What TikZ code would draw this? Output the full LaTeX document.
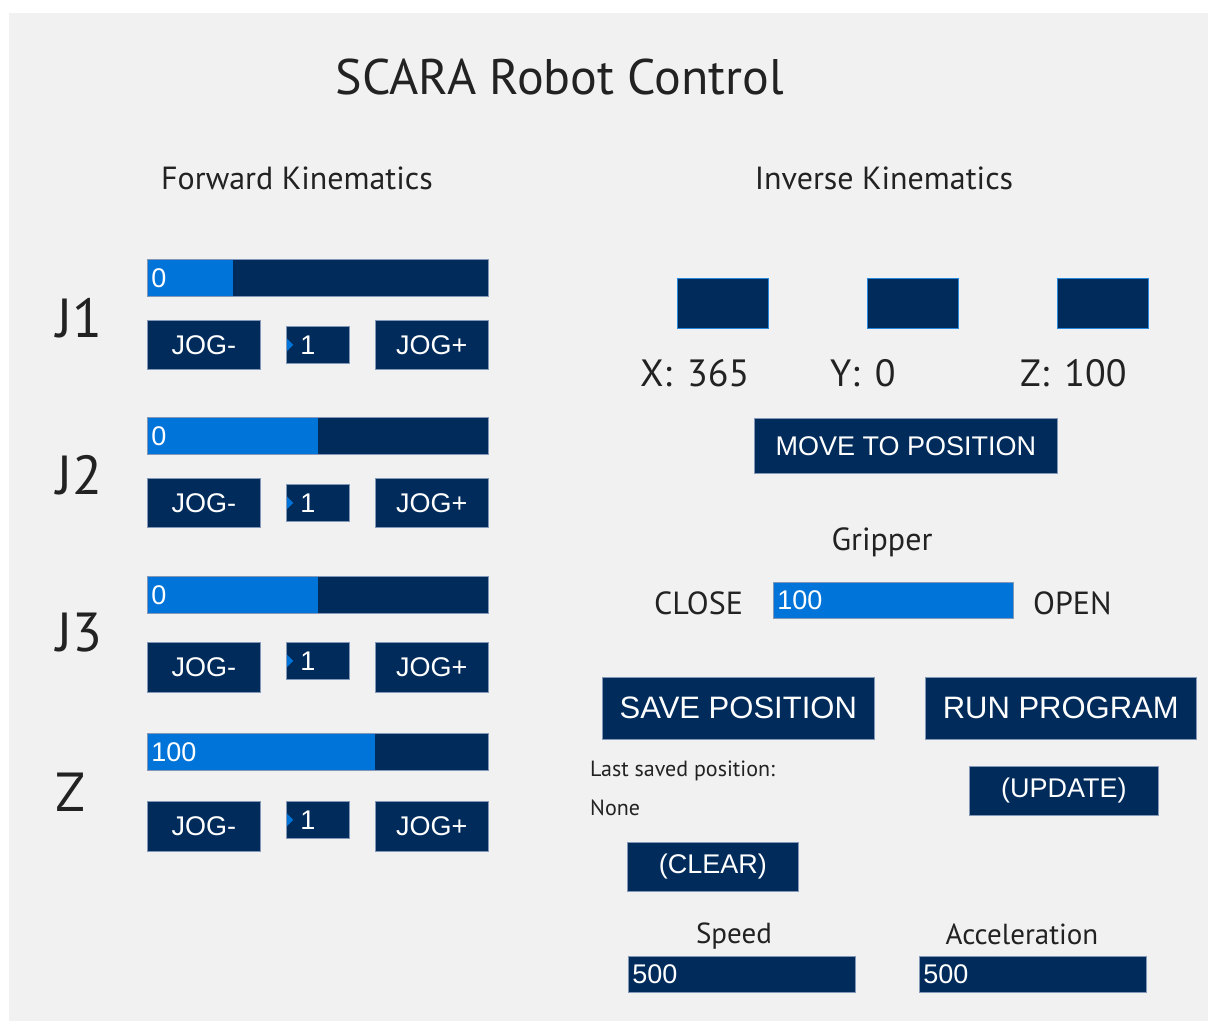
\documentclass[tikz,border=0pt]{standalone}
\usepackage{fontspec}
\setmainfont{PT Sans}
\newfontfamily\btnfont{Liberation Sans}
\usepackage{tikz}
\usetikzlibrary{positioning}
\definecolor{uiBack}{RGB}{241,241,241}
\definecolor{uiNavy}{RGB}{0,43,91}
\definecolor{uiBlue}{RGB}{0,116,217}
\definecolor{uiEdge}{RGB}{130,152,182}
\definecolor{uiText}{RGB}{34,34,34}
\tikzstyle{widget} = [anchor=north west, fill=uiNavy, draw=uiEdge, line width=0.6pt,
        text=white, font={\btnfont\fontsize{27}{30}\selectfont}]
\tikzstyle{btn} = [widget, inner sep=0pt]
\tikzstyle{coordbox} = [widget, draw=uiBlue!85!white, line width=1.2pt,
        minimum width=91, minimum height=50]
\tikzstyle{valbox} = [widget, minimum height=36, inner ysep=0pt, inner xsep=4pt, align=left]
\tikzstyle{stepbox} = [widget, minimum height=37, inner ysep=0pt, inner xsep=14pt,
        text width=35, align=left,
        path picture={\fill[uiBlue] (path picture bounding box.west) ++(0,-7) -- ++(7,7) -- ++(-7,7) -- cycle;}]
\tikzstyle{uitext} = [text=uiText, inner sep=0pt]
\tikzstyle{joint} = [uitext, anchor=west, font={\fontsize{55}{62}\selectfont}]
\tikzset{bar/.style={valbox, minimum height=37, text width=333,
        path picture={\fill[uiBlue] (path picture bounding box.south west) rectangle ++(#1,-38);}}}

\begin{document}
\begin{tikzpicture}[x=1pt, y=-1pt]
    \useasboundingbox (0,0) rectangle (1208,1021);
    \fill[uiBack] (9,13) rectangle (1208,1021);

    % headings
    \node [uitext, font={\fontsize{50}{58}\selectfont}] (title) at (560,77) {SCARA Robot Control};
    \node [uitext, font={\fontsize{32}{40}\selectfont}] (fwd) at (297,178) {Forward Kinematics};
    \node [uitext, font={\fontsize{32}{40}\selectfont}] (inv) at (884,178) {Inverse Kinematics};

    % forward kinematics: one slider and jog row per joint
    \draw
        node [joint] (j1) at (56,318) {J1}
        (147,259) node [bar=86] (j1bar) {0}
        (147,320) node [btn, minimum width=113, minimum height=49] (j1minus) {JOG-}
        +(139,6) node [stepbox] (j1step) {1}
        +(228,0) node [btn, minimum width=113, minimum height=49] (j1plus) {JOG+};
    \draw
        node [joint] (j2) at (56,475) {J2}
        (147,417) node [bar=171] (j2bar) {0}
        (147,478) node [btn, minimum width=113, minimum height=49] (j2minus) {JOG-}
        +(139,6) node [stepbox] (j2step) {1}
        +(228,0) node [btn, minimum width=113, minimum height=49] (j2plus) {JOG+};
    \draw
        node [joint] (j3) at (56,633) {J3}
        (147,576) node [bar=171] (j3bar) {0}
        (147,642) node [btn, minimum width=113, minimum height=50] (j3minus) {JOG-}
        +(139,0) node [stepbox] (j3step) {1}
        +(228,0) node [btn, minimum width=113, minimum height=50] (j3plus) {JOG+};
    \draw
        node [joint] (zaxis) at (55,792) {Z}
        (147,733) node [bar=228] (zbar) {100}
        (147,801) node [btn, minimum width=113, minimum height=50] (zminus) {JOG-}
        +(139,0) node [stepbox] (zstep) {1}
        +(228,0) node [btn, minimum width=113, minimum height=50] (zplus) {JOG+};

    % inverse kinematics
    \node [coordbox] (xbox) at (677,278) {};
    \node [coordbox] (ybox) at (867,278) {};
    \node [coordbox] (zbox) at (1057,278) {};
    \node [uitext, anchor=west, font={\fontsize{38}{46}\selectfont}] (xval) at (640,373) {X:\hspace{5pt} 365};
    \node [uitext, anchor=west, font={\fontsize{38}{46}\selectfont}] (yval) at (830,373) {Y:\hspace{5pt} 0};
    \node [uitext, anchor=west, font={\fontsize{38}{46}\selectfont}] (zval) at (1020,373) {Z:\hspace{5pt} 100};
    \node [btn, minimum width=303, minimum height=55] (move) at (754,418) {MOVE TO POSITION};

    % gripper
    \node [uitext, font={\fontsize{32}{40}\selectfont}] (grip) at (882,542) {Gripper};
    \node [valbox, fill=uiBlue, text width=232] (gripbar) at (773,582) {100};
    \node [uitext, anchor=west, font={\fontsize{32}{40}\selectfont}] (close) at (654,603) {CLOSE};
    \node [uitext, anchor=west, font={\fontsize{32}{40}\selectfont}] (open) at (1033,603) {OPEN};

    % program
    \node [btn, minimum width=272, minimum height=62, font={\btnfont\fontsize{31}{36}\selectfont}] (save) at (602,677) {SAVE POSITION};
    \node [btn, minimum width=271, minimum height=62, font={\btnfont\fontsize{31}{36}\selectfont}] (run) at (925,677) {RUN PROGRAM};
    \node [uitext, anchor=west, font={\fontsize{22}{26}\selectfont}] (last) at (590,771) {Last saved position:};
    \node [uitext, anchor=west, font={\fontsize{22}{26}\selectfont}] (none) at (590,808) {None};
    \node [btn, minimum width=189, minimum height=49] (update) at (969,766) {(UPDATE)};
    \node [btn, minimum width=171, minimum height=49] (clear) at (627,842) {(CLEAR)};

    % speed and acceleration
    \node [uitext, font={\fontsize{29}{34}\selectfont}] (speed) at (734,936) {Speed};
    \node [uitext, font={\fontsize{29}{34}\selectfont}] (accel) at (1022,934) {Acceleration};
    \node [valbox, text width=219] (speedbox) at (628,956) {500};
    \node [valbox, text width=219] (accelbox) at (919,956) {500};
\end{tikzpicture}
\end{document}
